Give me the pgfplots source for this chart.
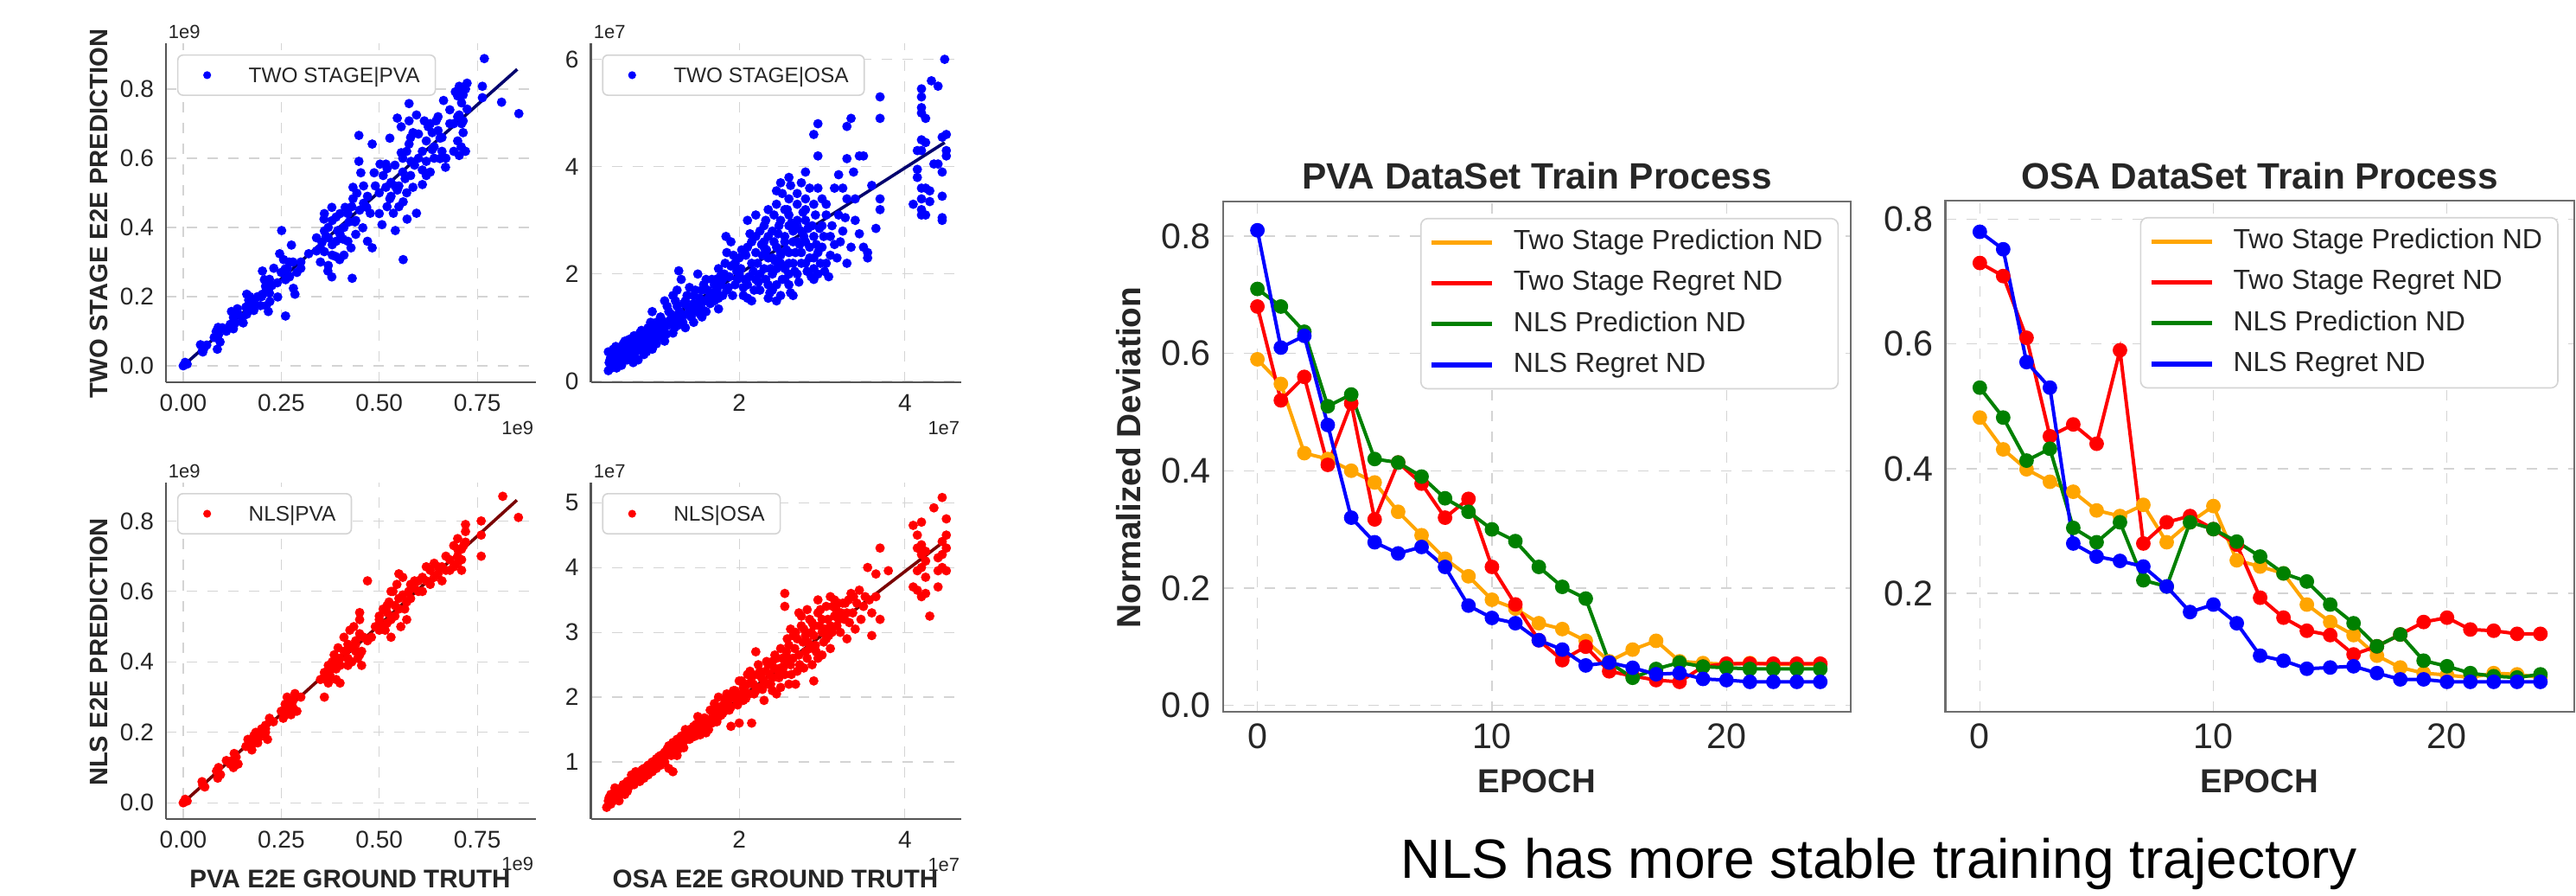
\documentclass[border=0pt]{standalone}
\usepackage{fontspec}
\setmainfont{Liberation Sans}
\usepackage{pgfplots}
\pgfplotsset{compat=1.18}

\definecolor{txt}{HTML}{262626}
\definecolor{grd}{HTML}{D4D4D4}
\definecolor{spine}{HTML}{555555}
\definecolor{sorange}{HTML}{FFA500}
\definecolor{navy}{HTML}{00006E}
\definecolor{dkred}{HTML}{7A0000}

\pgfplotsset{
  scat/.style={
    scale only axis, width=107.1pt, anchor=south west,
    axis x line*=bottom, axis y line*=left,
    axis line style={spine, line width=0.6pt},
    grid=major, grid style={grd, dashed, line width=0.3pt},
    major tick length=0pt,
    tick label style={font=\fontsize{7}{8}\selectfont, text=txt},
    /pgf/number format/assume math mode=true,
    scaled ticks=false,
    legend style={at={(0.03,0.967)}, anchor=north west, draw=grd,
      rounded corners=1.5pt, fill=white, text=txt,
      inner xsep=2.5pt, inner ysep=1.5pt,
      nodes={font=\fontsize{6.1}{7}\selectfont, text height=4.4pt, text depth=0.2pt, inner ysep=2pt}},
    legend image code/.code={\path[draw=none, fill=none] (0pt,-1pt) rectangle (16pt,1pt); \fill[#1] (6pt,0pt) circle (1.15pt);},
    legend cell align=left,
  },
  dots/.style={only marks, mark=*, mark size=1.15pt, draw=none},
  trn/.style={
    scale only axis, anchor=south west,
    xmin=-1.46, xmax=25.3, xtick={0,10,20},
    axis line style={spine!85, line width=0.7pt},
    grid=major, grid style={grd, dashed, line width=0.3pt},
    major tick length=0pt,
    tick label style={font=\fontsize{10.3}{12}\selectfont, text=txt},
    /pgf/number format/assume math mode=true,
    every axis plot/.append style={line width=1pt, mark=*, mark size=1.6pt},
    legend style={anchor=north east, draw=grd, rounded corners=2pt,
      fill=white, text=txt, inner xsep=2.5pt, inner ysep=1.5pt, row sep=1pt,
      nodes={font=\fontsize{8}{9.6}\selectfont, text height=5.9pt, text depth=1.7pt, inner ysep=1.6pt},
      /tikz/every odd column/.append style={column sep=3.5pt}},
    legend image code/.code={\draw[#1, line width=1.3pt] (0pt,0pt) -- (17.5pt,0pt);},
    legend cell align=left,
  },
}

\begin{document}
\begin{tikzpicture}
\useasboundingbox (0,0) rectangle (745pt,259pt);

% ---------- TWO STAGE | PVA ----------
\begin{axis}[scat, at={(48pt,148.5pt)}, height=98pt,
  xmin=-0.044, xmax=0.9006, ymin=-0.0475, ymax=0.9325,
  xtick={0,0.25,0.5,0.75}, xticklabels={0.00,0.25,0.50,0.75},
  ytick={0,0.2,0.4,0.6,0.8}, yticklabels={0.0,0.2,0.4,0.6,0.8}]
\addplot[dots, blue] coordinates {
(0,0)(0.005,0.01)(0.01,0.005)(0.044,0.061)(0.049,0.044)(0.054,0.053)(0.084,0.099)(0.089,0.111)
(0.079,0.082)(0.094,0.069)(0.087,0.048)(0.123,0.157)(0.128,0.14)(0.133,0.124)(0.128,0.107)(0.138,0.165)
(0.162,0.207)(0.167,0.19)(0.172,0.174)(0.177,0.165)(0.162,0.149)(0.182,0.182)(0.153,0.124)(0.202,0.274)
(0.207,0.249)(0.212,0.224)(0.202,0.207)(0.221,0.186)(0.212,0.174)(0.226,0.232)(0.217,0.157)(0.197,0.174)
(0.251,0.391)(0.261,0.144)(0.246,0.324)(0.256,0.307)(0.266,0.282)(0.271,0.257)(0.281,0.224)(0.241,0.199)
(0.261,0.249)(0.276,0.349)(0.285,0.207)(0.231,0.282)(0.300,0.282)(0.320,0.324)(0.340,0.332)(0.354,0.357)
(0.364,0.374)(0.369,0.274)(0.359,0.424)(0.379,0.458)(0.389,0.316)(0.399,0.307)(0.379,0.257)(0.394,0.391)
(0.408,0.366)(0.423,0.416)(0.428,0.341)(0.413,0.458)(0.433,0.483)(0.443,0.499)(0.448,0.666)(0.438,0.416)
(0.431,0.253)(0.482,0.341)(0.458,0.399)(0.468,0.458)(0.477,0.441)(0.487,0.558)(0.502,0.583)(0.517,0.516)
(0.507,0.408)(0.527,0.483)(0.536,0.441)(0.541,0.391)(0.546,0.508)(0.556,0.616)(0.561,0.474)(0.566,0.541)
(0.571,0.424)(0.561,0.307)(0.576,0.641)(0.581,0.591)(0.586,0.516)(0.595,0.441)(0.546,0.716)(0.556,0.691)
(0.586,0.674)(0.576,0.708)(0.615,0.708)(0.625,0.691)(0.635,0.674)(0.645,0.708)(0.610,0.566)(0.620,0.591)
(0.640,0.633)(0.655,0.599)(0.669,0.574)(0.610,0.524)(0.655,0.658)(0.664,0.767)(0.704,0.808)(0.714,0.783)
(0.724,0.817)(0.694,0.792)(0.704,0.725)(0.714,0.674)(0.704,0.608)(0.709,0.633)(0.714,0.708)(0.724,0.742)
(0.763,0.775)(0.768,0.888)(0.812,0.762)(0.856,0.729)(0.763,0.808)(0.576,0.758)(0.448,0.591)(0.453,0.558)
(0.433,0.516)(0.482,0.641)(0.527,0.658)(0.517,0.583)(0.595,0.725)(0.635,0.625)(0.36,0.44)(0.37,0.40)
(0.38,0.35)(0.39,0.43)(0.40,0.38)(0.41,0.32)(0.42,0.44)(0.44,0.38)(0.45,0.45)(0.46,0.52)(0.47,0.49)
(0.50,0.50)(0.51,0.55)(0.52,0.46)(0.53,0.53)(0.54,0.58)(0.55,0.52)(0.56,0.56)(0.57,0.62)(0.58,0.55)
(0.60,0.60)(0.62,0.65)(0.63,0.56)(0.65,0.68)(0.66,0.62)(0.68,0.70)(0.70,0.78)(0.71,0.76)(0.72,0.80)
(0.70,0.65)(0.69,0.70)(0.36,0.33)(0.35,0.30)(0.37,0.29)(0.38,0.42)(0.30,0.30)(0.29,0.27)(0.27,0.30)
(0.25,0.27)(0.24,0.24)(0.22,0.21)(0.19,0.20)(0.18,0.16)(0.15,0.14)(0.14,0.15)(0.12,0.12)(0.11,0.10)
(0.10,0.11)(0.09,0.09)(0.06,0.06)(0.05,0.04)
(0.42,0.36)(0.43,0.46)(0.44,0.42)(0.46,0.47)(0.47,0.36)(0.49,0.52)(0.50,0.44)(0.52,0.57)(0.53,0.49)
(0.54,0.52)(0.55,0.46)(0.56,0.6)(0.57,0.5)(0.58,0.66)(0.59,0.58)(0.6,0.67)(0.61,0.62)(0.62,0.55)
(0.63,0.7)(0.64,0.6)(0.65,0.72)(0.66,0.66)(0.67,0.6)(0.68,0.74)(0.69,0.62)(0.7,0.72)(0.71,0.7)
(0.72,0.62)(0.71,0.8)(0.37,0.37)(0.38,0.32)(0.39,0.36)(0.40,0.44)(0.41,0.40)(0.35,0.34)(0.36,0.39)
(0.34,0.37)(0.26,0.28)(0.27,0.26)(0.28,0.3)(0.22,0.25)(0.2,0.2)(0.21,0.23)(0.17,0.2)(0.16,0.17)
};
\addlegendentry{TWO STAGE|PVA}
\addplot[navy, line width=0.9pt, forget plot] coordinates {(0,0)(0.852,0.857)};
\end{axis}

% ---------- TWO STAGE | OSA ----------
\begin{axis}[scat, at={(170.9pt,148.5pt)}, height=98pt,
  xmin=0.21, xmax=4.68, ymin=-0.016, ymax=6.3,
  xtick={2,4}, ytick={0,2,4,6}]
\addplot[dots, blue] coordinates {
(4.48,6.0)(4.32,5.6)(4.4,5.5)(4.2,5.45)(4.2,5.3)(4.2,5.1)(4.2,5.0)(4.25,4.9)(3.7,5.3)(3.7,4.9)
(3.3,4.75)(3.35,4.9)(2.95,4.8)(2.9,4.6)(2.95,4.2)(3.3,4.15)(3.45,4.2)(3.5,4.2)(4.2,4.5)(4.25,4.45)
(4.35,4.05)(4.4,4.05)(4.45,4.55)(4.5,4.6)(4.5,4.3)(4.5,4.2)(4.45,3.9)(4.45,3.45)(4.45,3.05)(4.45,3.0)
(4.2,4.3)(4.15,4.3)(4.1,3.3)(4.2,3.1)(4.25,3.1)(4.2,3.4)(4.25,3.6)(4.3,3.55)(4.2,3.2)(4.3,3.35)
(4.2,3.6)(4.15,3.95)(4.15,3.8)(3.7,3.4)(3.7,3.2)(3.6,3.65)(3.65,2.85)(3.55,2.4)(3.5,2.5)(3.55,2.3)
(3.3,2.2)(3.2,3.85)(3.25,3.6)(3.3,3.4)(3.4,3.4)(3.4,3.0)(3.25,2.8)(3.15,2.55)(3.1,2.35)(3.2,3.1)
(2.8,3.9)(2.85,3.6)(2.75,3.7)(2.6,3.8)(2.5,3.7)(2.7,3.3)(2.6,3.4)(2.45,3.3)(2.35,3.2)(2.2,3.1)
(2.1,3.0)(2.3,2.9)(2.5,3.0)(2.6,2.9)(2.7,2.9)(2.8,3.0)(2.9,3.3)(3.0,3.4)(3.0,2.9)(2.9,2.7)
(3.0,2.5)(3.05,2.2)(2.95,2.0)(2.9,1.9)(2.8,2.2)(2.7,2.0)(2.6,1.8)(2.5,1.6)(2.45,1.5)(2.4,1.7)
(2.4,2.0)(2.5,2.2)(2.6,2.4)(2.7,2.6)(2.55,2.7)(2.45,2.5)(2.35,2.3)(2.3,2.6)(2.2,2.4)(2.15,2.2)
(2.1,2.5)(2.0,2.3)(2.0,2.0)(1.95,1.8)(1.9,2.6)(1.85,2.4)(1.9,2.15)(1.8,1.9)(1.8,1.6)(1.75,2.1)
(2.05,1.6)(2.1,1.8)(2.2,1.9)(2.3,2.1)(2.25,1.7)(2.15,1.5)(2.1,1.55)(2.35,1.8)(2.55,2.1)(2.65,2.2)
(2.75,2.4)(2.85,2.5)(2.4,2.8)(2.3,2.5)(2.2,2.7)(2.6,3.1)(2.7,3.5)(2.8,3.2)(2.95,3.6)(3.05,3.1)
(1.5,2.0)(1.6,1.9)(1.7,1.8)(1.65,1.6)(1.55,1.7)(1.45,1.6)(1.5,1.4)(1.4,1.3)(1.35,1.5)(1.3,1.2)
(1.25,1.4)(1.2,1.1)(1.15,1.3)(1.1,1.0)(1.05,1.2)(1.0,0.9)(1.0,1.1)(0.95,1.3)(1.1,1.5)(1.2,1.6)
(1.25,1.7)(1.3,1.9)(1.35,1.0)(1.45,1.1)(1.55,1.2)(1.6,1.3)(1.7,1.5)(1.75,1.35)(1.4,1.75)(1.2,0.9)
(1.1,0.75)(1.0,0.7)(0.9,0.8)(0.9,1.0)(0.85,0.7)(0.8,0.9)(0.8,0.6)(0.75,0.75)(0.7,0.5)(0.7,0.8)
(0.65,0.6)(0.6,0.45)(0.6,0.7)(0.55,0.55)(0.55,0.4)(0.5,0.5)(0.5,0.35)(0.45,0.3)(0.45,0.45)(0.42,0.55)
(0.42,0.2)(0.48,0.6)(0.52,0.25)(0.58,0.3)(0.65,0.4)(0.72,0.35)(0.75,0.55)(0.85,0.5)(0.95,0.6)(0.78,0.4)
(0.68,0.65)(0.62,0.75)(0.55,0.62)(1.84,2.7)(1.27,2.06)(2.45,3.55)(2.55,3.2)(2.65,2.6)(2.75,2.8)(2.5,2.4)
(2.45,2.1)(2.55,1.9)(2.65,1.6)(2.35,1.55)(2.25,2.0)(2.4,2.3)(2.6,2.0)(2.8,2.6)(2.9,2.3)(3.1,2.7)
(0.43,0.35)(0.47,0.42)(0.5,0.28)(0.53,0.48)(0.57,0.52)(0.6,0.38)(0.63,0.55)(0.66,0.48)(0.69,0.7)
(0.72,0.6)(0.74,0.45)(0.77,0.68)(0.8,0.75)(0.83,0.62)(0.86,0.85)(0.88,0.55)(0.92,0.9)(0.94,0.72)
(0.97,1.0)(1.02,0.82)(1.05,0.95)(1.08,1.12)(1.12,0.88)(1.15,1.05)(1.18,1.25)(1.22,1.0)(1.25,1.2)
(1.28,1.3)(1.32,1.1)(1.36,1.25)(1.38,1.4)(1.42,1.2)(1.45,1.45)(1.48,1.3)(1.52,1.55)(1.55,1.35)
(1.58,1.5)(1.62,1.7)(1.65,1.45)(1.68,1.65)(1.72,1.9)(1.75,1.55)(1.78,1.8)(1.82,2.0)(1.85,1.7)
(1.88,1.95)(1.92,1.6)(1.95,2.2)(1.98,1.9)(2.02,2.1)(2.05,1.75)(2.08,2.35)(2.12,1.95)(2.15,2.6)
(2.18,1.7)(2.22,2.2)(2.25,2.8)(2.28,2.35)(2.32,1.9)(2.35,2.7)(2.38,2.1)(2.42,2.6)(2.45,1.8)
(2.48,2.9)(2.5,2.35)(2.52,1.9)(2.55,2.6)(2.58,3.2)(2.6,2.2)(2.62,1.65)(2.65,2.8)(2.68,2.4)
(2.7,3.0)(2.72,1.85)(2.75,2.2)(2.78,2.7)(2.8,3.4)(2.82,2.05)(2.85,2.3)(2.88,2.9)(2.9,2.1)
(2.92,3.1)(2.95,2.4)(2.98,2.2)(3.02,2.7)(3.05,3.3)(3.08,1.95)(3.12,2.9)(3.15,3.6)(3.18,2.3)
(3.22,2.6)(3.28,3.05)(3.35,2.5)(3.45,2.75)(3.38,3.9)(2.52,3.5)(2.62,3.65)(2.42,3.1)(2.32,3.0)
(2.33,2.45)(2.37,1.65)(2.43,2.25)(2.47,2.75)(2.53,2.15)(2.57,2.45)(2.63,2.95)(2.67,2.05)(2.73,2.55)
(2.77,3.15)(2.83,2.85)(2.87,1.95)(2.93,2.55)(2.97,2.85)(3.03,2.05)(2.27,2.55)(2.23,1.85)(2.17,2.05)
(2.13,2.75)(2.07,1.9)(2.03,2.45)(1.97,2.05)(1.93,2.35)(1.87,1.75)(1.83,2.2)(1.77,1.95)(1.73,1.7)
(1.67,1.9)(1.63,1.55)(1.57,1.8)(1.53,1.25)(1.47,1.7)(1.43,1.35)(1.37,1.6)(1.33,1.45)(1.27,1.05)
(1.23,1.5)(1.17,1.15)(1.13,1.4)(1.07,0.85)(1.03,1.05)(0.98,0.8)(0.93,1.1)(0.88,0.9)(0.83,0.8)
(0.78,0.6)(0.73,0.85)(0.68,0.55)(0.64,0.7)(0.58,0.62)(0.54,0.35)(0.49,0.52)(0.44,0.4)(0.46,0.25)
(0.51,0.65)(0.56,0.45)(0.61,0.58)(0.67,0.78)(0.71,0.42)(0.76,0.65)(0.82,0.95)(0.87,0.62)(0.91,0.72)
(0.96,0.92)
};
\addlegendentry{TWO STAGE|OSA}
\addplot[navy, line width=0.9pt, forget plot] coordinates {(0.41,0.44)(4.48,4.45)};
\end{axis}

% ---------- NLS | PVA ----------
\begin{axis}[scat, at={(48pt,22.25pt)}, height=97.25pt,
  xmin=-0.044, xmax=0.9006, ymin=-0.046, ymax=0.909,
  xtick={0,0.25,0.5,0.75}, xticklabels={0.00,0.25,0.50,0.75},
  ytick={0,0.2,0.4,0.6,0.8}, yticklabels={0.0,0.2,0.4,0.6,0.8},
  legend style={at={(0.03,0.969)}}]
\addplot[dots, red] coordinates {
(0,0)(0.005,0.01)(0.01,0.005)(0.05,0.05)(0.048,0.06)(0.055,0.045)(0.085,0.09)(0.09,0.1)(0.095,0.08)
(0.088,0.07)(0.125,0.12)(0.13,0.14)(0.128,0.1)(0.135,0.13)(0.14,0.11)(0.16,0.16)(0.165,0.18)(0.17,0.17)
(0.175,0.15)(0.18,0.19)(0.185,0.2)(0.19,0.17)(0.2,0.21)(0.205,0.19)(0.21,0.22)(0.215,0.18)(0.21,0.2)
(0.25,0.26)(0.255,0.24)(0.26,0.28)(0.265,0.3)(0.27,0.27)(0.275,0.25)(0.28,0.29)(0.285,0.31)(0.29,0.26)
(0.3,0.3)(0.36,0.37)(0.365,0.35)(0.37,0.39)(0.375,0.36)(0.38,0.4)(0.385,0.42)(0.39,0.38)(0.395,0.44)
(0.4,0.41)(0.4,0.34)(0.36,0.3)(0.41,0.47)(0.415,0.43)(0.42,0.45)(0.425,0.49)(0.43,0.4)(0.435,0.5)
(0.44,0.46)(0.445,0.41)(0.45,0.48)(0.455,0.39)(0.455,0.43)(0.45,0.52)(0.47,0.63)(0.45,0.54)(0.48,0.47)
(0.49,0.5)(0.5,0.53)(0.51,0.55)(0.515,0.49)(0.52,0.51)(0.525,0.57)(0.53,0.47)(0.535,0.6)(0.54,0.53)
(0.545,0.62)(0.55,0.58)(0.555,0.5)(0.56,0.64)(0.565,0.55)(0.57,0.52)(0.575,0.6)(0.58,0.62)(0.55,0.65)
(0.53,0.6)(0.59,0.61)(0.6,0.63)(0.61,0.6)(0.62,0.67)(0.63,0.62)(0.64,0.68)(0.65,0.65)(0.66,0.63)
(0.67,0.7)(0.68,0.66)(0.69,0.67)(0.7,0.72)(0.7,0.75)(0.71,0.69)(0.715,0.73)(0.72,0.77)(0.72,0.79)
(0.71,0.66)(0.7,0.7)(0.69,0.73)(0.76,0.8)(0.76,0.76)(0.76,0.7)(0.815,0.87)(0.855,0.81)(0.61,0.64)
(0.63,0.66)(0.54,0.56)(0.52,0.54)(0.5,0.49)(0.47,0.46)(0.44,0.43)(0.42,0.41)(0.39,0.41)(0.37,0.37)
(0.35,0.35)(0.23,0.23)(0.22,0.24)(0.19,0.18)(0.17,0.16)(0.12,0.11)(0.11,0.12)(0.66,0.67)(0.68,0.69)
(0.37,0.34)(0.38,0.38)(0.39,0.35)(0.4,0.39)(0.41,0.43)(0.42,0.39)(0.43,0.44)(0.44,0.45)(0.45,0.42)
(0.46,0.47)(0.5,0.52)(0.51,0.5)(0.52,0.56)(0.53,0.52)(0.55,0.55)(0.56,0.59)(0.57,0.57)(0.58,0.58)
(0.59,0.63)(0.6,0.6)(0.62,0.63)(0.64,0.64)(0.65,0.67)(0.67,0.66)(0.7,0.68)(0.71,0.72)(0.72,0.74)
(0.28,0.27)(0.27,0.29)(0.26,0.25)(0.2,0.19)(0.21,0.21)(0.18,0.17)
};
\addlegendentry{NLS|PVA}
\addplot[dkred, line width=0.9pt, forget plot] coordinates {(0,0)(0.851,0.859)};
\end{axis}

% ---------- NLS | OSA ----------
\begin{axis}[scat, at={(170.9pt,22.25pt)}, height=97.25pt,
  xmin=0.21, xmax=4.68, ymin=0.12, ymax=5.31,
  xtick={2,4}, ytick={1,2,3,4,5},
  legend style={at={(0.03,0.969)}}]
\addplot[dots, red] coordinates {
(0.4,0.3)(0.42,0.4)(0.45,0.35)(0.5,0.45)(0.55,0.5)(0.5,0.6)(0.6,0.55)(0.65,0.7)(0.7,0.65)(0.7,0.8)
(0.75,0.75)(0.8,0.85)(0.8,0.7)(0.85,0.9)(0.9,0.95)(0.9,0.8)(0.95,1.0)(1.0,1.05)(1.0,0.9)(1.05,1.1)
(1.1,1.15)(1.1,1.0)(1.15,1.25)(1.2,1.2)(1.2,1.3)(1.25,1.1)(1.3,1.4)(1.3,1.25)(1.35,1.5)(1.4,1.35)
(1.45,1.55)(1.5,1.5)(1.5,1.7)(1.55,1.45)(1.6,1.6)(1.65,1.8)(1.7,1.65)(1.7,1.9)(1.75,2.0)(1.8,1.75)
(1.85,2.05)(1.9,1.85)(1.95,2.1)(2.0,2.0)(2.0,2.25)(2.05,1.95)(2.1,2.2)(2.15,2.3)(2.2,2.1)(2.25,2.4)
(2.3,2.25)(2.35,2.5)(2.4,2.3)(2.45,2.6)(2.5,2.45)(2.5,2.75)(2.55,2.55)(2.6,2.8)(2.65,2.6)(2.7,2.9)
(2.7,2.4)(2.75,3.1)(2.8,2.7)(2.85,3.2)(2.9,2.95)(2.95,3.3)(3.0,3.0)(3.05,3.4)(3.1,3.1)(3.15,3.5)
(3.2,3.2)(3.25,3.45)(3.3,3.3)(3.35,3.6)(3.4,3.05)(3.45,3.65)(3.5,3.4)(3.3,2.9)(3.1,2.75)(2.95,2.6)
(2.6,2.2)(2.45,2.05)(2.3,1.95)(2.0,1.6)(1.9,1.55)(1.2,0.85)(1.15,0.9)(3.6,3.3)(3.65,3.9)(3.55,4.0)
(3.7,4.3)(3.8,3.95)(3.7,3.2)(3.6,2.95)(3.65,3.55)(2.9,2.25)(2.55,3.4)(2.55,3.6)(2.75,3.25)(2.2,2.7)
(2.15,1.6)(4.1,4.65)(4.15,4.5)(4.2,4.7)(4.15,4.3)(4.2,4.2)(4.25,4.1)(4.2,4.0)(4.15,3.95)(4.1,3.7)
(4.15,3.65)(4.2,3.55)(4.25,3.6)(4.25,3.85)(4.3,3.25)(4.35,4.92)(4.45,5.08)(4.5,4.75)(4.5,4.5)(4.45,4.4)
(4.5,4.3)(4.4,4.15)(4.45,4.0)(4.4,3.95)(4.5,3.95)(4.4,3.7)(4.2,4.35)(4.25,4.25)(4.45,4.2)
(0.45,0.5)(0.55,0.4)(0.6,0.65)(0.65,0.55)(0.75,0.85)(0.85,0.75)(0.95,0.85)(1.05,0.95)(1.25,1.35)
(1.4,1.5)(1.55,1.6)(1.6,1.45)(1.75,1.7)(1.85,1.8)(2.05,2.15)(2.1,2.35)(2.25,2.15)(2.35,2.2)(2.4,2.55)
(2.55,2.35)(2.6,2.6)(2.65,2.95)(2.8,2.95)(2.85,2.75)(2.9,3.1)(3.0,3.2)(3.05,2.9)(3.15,3.25)(3.2,3.45)
(0.43,0.45)(0.48,0.4)(0.52,0.52)(0.58,0.6)(0.62,0.5)(0.67,0.62)(0.72,0.72)(0.78,0.8)(0.82,0.78)
(0.87,0.85)(0.92,0.88)(0.97,0.95)(1.02,1.0)(1.07,1.05)(1.12,1.1)(1.17,1.15)(1.22,1.25)(1.27,1.2)
(1.32,1.3)(1.37,1.35)(1.42,1.45)(1.47,1.4)(1.52,1.6)(1.57,1.55)(1.62,1.65)(1.67,1.6)(1.72,1.8)
(1.77,1.85)(1.82,1.9)(1.87,1.95)(1.92,2.0)(1.97,1.95)(2.02,2.05)(2.07,2.1)(2.12,2.05)(2.17,2.2)
(2.22,2.35)(2.27,2.3)(2.32,2.4)(2.37,2.35)(2.42,2.45)(2.47,2.4)(2.52,2.6)(2.57,2.7)(2.62,2.5)
(2.67,2.75)(2.72,2.65)(2.77,2.85)(2.82,2.6)(2.87,3.0)(2.92,2.8)(2.97,3.1)(3.02,2.85)(3.07,3.2)
(3.12,3.0)(3.17,3.35)(3.22,3.0)(3.27,3.2)(3.32,3.5)(3.37,3.3)(3.42,3.45)(3.47,3.2)(3.52,3.55)
(3.57,3.5)(2.68,2.2)(2.78,2.45)(2.88,2.5)(3.0,2.65)(2.4,2.1)(2.5,2.15)(2.62,3.05)(2.72,3.3)
(2.82,3.35)(2.95,3.5)(3.1,3.55)
(0.44,0.38)(0.47,0.5)(0.53,0.42)(0.57,0.55)(0.63,0.6)(0.68,0.68)(0.73,0.65)(0.77,0.72)(0.83,0.88)
(0.88,0.82)(0.93,0.95)(0.98,0.92)(1.03,1.08)(1.08,0.98)(1.13,1.2)(1.18,1.1)(1.23,1.15)(1.28,1.32)
(1.33,1.22)(1.38,1.45)(1.43,1.38)(1.48,1.58)(1.53,1.42)(1.58,1.68)(1.63,1.5)(1.68,1.75)(1.73,1.62)
(1.78,1.72)(1.83,1.98)(1.88,1.8)(1.93,2.1)(1.98,1.88)(2.03,2.25)(2.08,1.98)(2.13,2.4)(2.18,2.05)
(2.23,2.5)(2.28,2.12)(2.33,2.55)(2.38,2.2)(2.43,2.65)(2.48,2.3)(2.53,2.45)(2.58,2.9)(2.63,2.35)
(2.68,3.0)(2.73,2.5)(2.78,3.05)(2.83,2.85)(2.88,3.15)(2.93,2.7)(2.98,3.35)(3.03,3.05)(3.08,2.95)
(3.13,3.4)(3.18,3.1)(3.23,3.3)(3.28,3.45)(3.33,3.15)(3.38,3.55)
};
\addlegendentry{NLS|OSA}
\addplot[dkred, line width=0.9pt, forget plot] coordinates {(0.406,0.41)(4.48,4.41)};
\end{axis}

% ---------- PVA DataSet Train Process ----------
\begin{axis}[trn, at={(353.75pt,53.25pt)}, width=181.5pt, height=147.5pt,
  ymin=-0.011, ymax=0.859,
  ytick={0,0.2,0.4,0.6,0.8}, yticklabels={0.0,0.2,0.4,0.6,0.8},
  legend style={at={(0.981,0.968)}}]
\addplot[sorange] coordinates {(0,0.59)(1,0.548)(2,0.43)(3,0.42)(4,0.40)(5,0.38)(6,0.33)(7,0.29)(8,0.25)(9,0.22)(10,0.18)(11,0.165)(12,0.14)(13,0.13)(14,0.11)(15,0.075)(16,0.095)(17,0.11)(18,0.075)(19,0.072)(20,0.07)(21,0.072)(22,0.07)(23,0.07)(24,0.07)};
\addlegendentry{Two Stage Prediction ND}
\addplot[red] coordinates {(0,0.68)(1,0.52)(2,0.56)(3,0.41)(4,0.515)(5,0.317)(6,0.414)(7,0.378)(8,0.32)(9,0.352)(10,0.236)(11,0.172)(12,0.111)(13,0.077)(14,0.10)(15,0.058)(16,0.05)(17,0.043)(18,0.04)(19,0.066)(20,0.071)(21,0.071)(22,0.071)(23,0.071)(24,0.071)};
\addlegendentry{Two Stage Regret ND}
\addplot[green!50!black] coordinates {(0,0.71)(1,0.68)(2,0.637)(3,0.51)(4,0.53)(5,0.42)(6,0.414)(7,0.39)(8,0.353)(9,0.33)(10,0.30)(11,0.28)(12,0.236)(13,0.202)(14,0.182)(15,0.073)(16,0.047)(17,0.062)(18,0.073)(19,0.066)(20,0.064)(21,0.062)(22,0.062)(23,0.062)(24,0.062)};
\addlegendentry{NLS Prediction ND}
\addplot[blue] coordinates {(0,0.81)(1,0.61)(2,0.63)(3,0.478)(4,0.32)(5,0.278)(6,0.259)(7,0.27)(8,0.236)(9,0.17)(10,0.149)(11,0.14)(12,0.111)(13,0.095)(14,0.068)(15,0.073)(16,0.064)(17,0.053)(18,0.055)(19,0.045)(20,0.043)(21,0.04)(22,0.04)(23,0.04)(24,0.04)};
\addlegendentry{NLS Regret ND}
\end{axis}

% ---------- OSA DataSet Train Process ----------
\begin{axis}[trn, at={(562.65pt,53.25pt)}, width=181.85pt, height=147.75pt,
  xmin=-1.47, xmax=25.45, ymin=0.01, ymax=0.83,
  ytick={0.2,0.4,0.6,0.8}, yticklabels={0.2,0.4,0.6,0.8},
  legend style={at={(0.975,0.968)}}]
\addplot[sorange] coordinates {(0,0.482)(1,0.431)(2,0.399)(3,0.379)(4,0.363)(5,0.333)(6,0.324)(7,0.342)(8,0.282)(9,0.314)(10,0.34)(11,0.253)(12,0.243)(13,0.232)(14,0.182)(15,0.154)(16,0.133)(17,0.10)(18,0.081)(19,0.072)(20,0.069)(21,0.065)(22,0.072)(23,0.07)(24,0.065)};
\addlegendentry{Two Stage Prediction ND}
\addplot[red] coordinates {(0,0.73)(1,0.709)(2,0.61)(3,0.452)(4,0.471)(5,0.44)(6,0.59)(7,0.28)(8,0.314)(9,0.324)(10,0.303)(11,0.278)(12,0.193)(13,0.161)(14,0.14)(15,0.133)(16,0.102)(17,0.115)(18,0.134)(19,0.154)(20,0.161)(21,0.142)(22,0.14)(23,0.135)(24,0.135)};
\addlegendentry{Two Stage Regret ND}
\addplot[green!50!black] coordinates {(0,0.53)(1,0.482)(2,0.413)(3,0.432)(4,0.305)(5,0.282)(6,0.314)(7,0.221)(8,0.211)(9,0.314)(10,0.303)(11,0.283)(12,0.259)(13,0.232)(14,0.219)(15,0.182)(16,0.152)(17,0.115)(18,0.134)(19,0.092)(20,0.083)(21,0.072)(22,0.067)(23,0.065)(24,0.07)};
\addlegendentry{NLS Prediction ND}
\addplot[blue] coordinates {(0,0.78)(1,0.752)(2,0.571)(3,0.53)(4,0.28)(5,0.259)(6,0.252)(7,0.243)(8,0.211)(9,0.17)(10,0.182)(11,0.152)(12,0.10)(13,0.092)(14,0.079)(15,0.081)(16,0.083)(17,0.072)(18,0.062)(19,0.062)(20,0.058)(21,0.058)(22,0.058)(23,0.058)(24,0.058)};
\addlegendentry{NLS Regret ND}
\end{axis}

% ---------- text ----------
\begin{scope}[text=txt]
\node[rotate=90, font=\fontsize{7.3}{8}\selectfont\bfseries] at (28.5pt,197.25pt) {TWO STAGE E2E PREDICTION};
\node[rotate=90, font=\fontsize{7.3}{8}\selectfont\bfseries] at (28.5pt,70.5pt) {NLS E2E PREDICTION};
\node[anchor=base, font=\fontsize{7.4}{8}\selectfont\bfseries] at (101.25pt,2.25pt) {PVA E2E GROUND TRUTH};
\node[anchor=base, font=\fontsize{7.4}{8}\selectfont\bfseries] at (224.25pt,2.25pt) {OSA E2E GROUND TRUTH};
\node[anchor=base west, inner sep=0pt, font=\fontsize{5.5}{6}\selectfont] at (48.5pt,247.75pt) {1e9};
\node[anchor=base east, inner sep=0pt, font=\fontsize{5.5}{6}\selectfont] at (154.5pt,133.25pt) {1e9};
\node[anchor=base west, inner sep=0pt, font=\fontsize{5.5}{6}\selectfont] at (171.5pt,247.75pt) {1e7};
\node[anchor=base east, inner sep=0pt, font=\fontsize{5.5}{6}\selectfont] at (277.75pt,133.25pt) {1e7};
\node[anchor=base west, inner sep=0pt, font=\fontsize{5.5}{6}\selectfont] at (48.5pt,120.75pt) {1e9};
\node[anchor=base east, inner sep=0pt, font=\fontsize{5.5}{6}\selectfont] at (154.5pt,7.25pt) {1e9};
\node[anchor=base west, inner sep=0pt, font=\fontsize{5.5}{6}\selectfont] at (171.5pt,120.75pt) {1e7};
\node[anchor=base east, inner sep=0pt, font=\fontsize{5.5}{6}\selectfont] at (277.75pt,7pt) {1e7};
\node[anchor=base, font=\fontsize{10.6}{12}\selectfont\bfseries] at (444.5pt,204.25pt) {PVA DataSet Train Process};
\node[anchor=base, font=\fontsize{10.6}{12}\selectfont\bfseries] at (653.5pt,204.25pt) {OSA DataSet Train Process};
\node[anchor=base, font=\fontsize{9.6}{11}\selectfont\bfseries] at (444.5pt,29.75pt) {EPOCH};
\node[anchor=base, font=\fontsize{9.6}{11}\selectfont\bfseries] at (653.5pt,29.75pt) {EPOCH};
\node[rotate=90, font=\fontsize{9.7}{11}\selectfont\bfseries] at (326.5pt,126.75pt) {Normalized Deviation};
\end{scope}
\node[anchor=base west, inner sep=0pt, font=\fontsize{16}{18}\selectfont] at (405pt,5.1pt) {NLS has more stable training trajectory};
\end{tikzpicture}
\end{document}
